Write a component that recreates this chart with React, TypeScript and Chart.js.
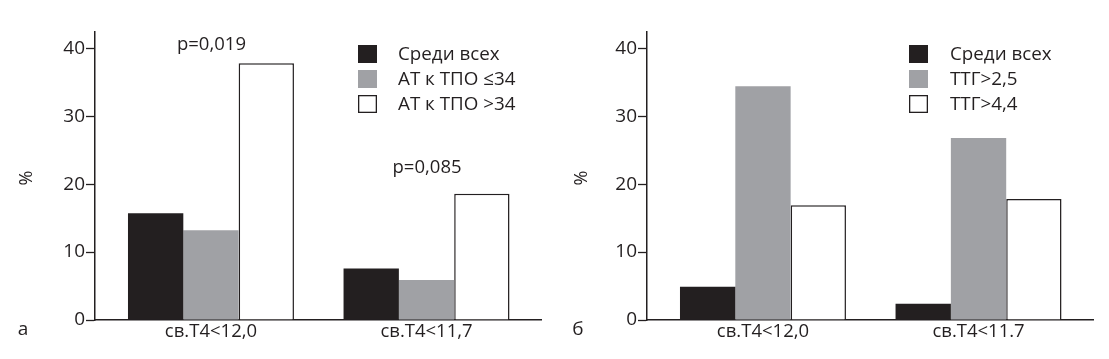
import React, { useEffect, useRef } from "react";
import { Chart, registerables } from "chart.js";

Chart.register(...registerables);

const leftCategories = ["св.Т4<12,0", "св.Т4<11,7"];
const rightCategories = ["св.Т4<12,0", "св.Т4<11.7"];
const leftLegend = ["Среди всех", "АТ к ТПО ≤34", "АТ к ТПО >34"];
const rightLegend = ["Среди всех", "ТТГ>2,5", "ТТГ>4,4"];
const leftAll = [15.7, 7.6];
const leftTpoLow = [13.2, 5.9];
const leftTpoHigh = [37.8, 18.6];
const rightAll = [4.9, 2.4];
const rightTtg25 = [34.4, 26.8];
const rightTtg44 = [16.9, 17.8];
const leftPValues = ["p=0,019", "p=0,085"];
const yTickValues = [0, 10, 20, 30, 40];

const INK = "#231f20";
const GRAY = "#a0a1a5";
const FONT = "'Open Sans', sans-serif";

type PanelProps = {
  categories: string[];
  legend: string[];
  series: number[][];
  pValues?: string[];
  pOffsets?: number[];
  panelLetter: string;
  yAxisWidth: number;
  rightPad: number;
  legendBoxX: number;
  legendTextX: number;
  width: number;
};

function Panel(props: PanelProps) {
  const ref = useRef<HTMLCanvasElement | null>(null);
  useEffect(() => {
    if (!ref.current) return;
    const colors = [INK, GRAY, "#ffffff"];
    const overlay = {
      id: "overlay",
      afterDraw(chart: any) {
        const ctx = chart.ctx;
        const xs = chart.scales.x;
        const ys = chart.scales.y;
        ctx.save();
        // legend
        const rows = [54, 79, 104];
        props.legend.forEach((t, i) => {
          ctx.fillStyle = colors[i];
          ctx.fillRect(props.legendBoxX, rows[i] - 9, 19, 18);
          if (i === 2) {
            ctx.strokeStyle = INK;
            ctx.lineWidth = 1.3;
            ctx.strokeRect(props.legendBoxX + 0.65, rows[i] - 8.35, 17.7, 16.7);
          }
          ctx.fillStyle = INK;
          ctx.font = `18.8px ${FONT}`;
          ctx.textAlign = "left";
          ctx.textBaseline = "middle";
          ctx.fillText(t, props.legendTextX, rows[i] + 1);
        });
        // p values
        if (props.pValues) {
          ctx.font = `18.5px ${FONT}`;
          ctx.textAlign = "center";
          ctx.textBaseline = "alphabetic";
          props.pValues.forEach((p, i) => {
            const maxV = Math.max(...props.series.map((s) => s[i]));
            const x = xs.getPixelForValue(i) + 0.5;
            const y = ys.getPixelForValue(maxV) - (props.pOffsets ? props.pOffsets[i] : 15);
            ctx.fillText(p, x, y);
          });
        }
        // % label
        ctx.font = `18px ${FONT}`;
        ctx.textAlign = "center";
        ctx.textBaseline = "middle";
        ctx.translate(27, 178);
        ctx.rotate(-Math.PI / 2);
        ctx.fillText("%", 0, 0);
        ctx.restore();
        ctx.save();
        ctx.fillStyle = INK;
        ctx.font = `19px ${FONT}`;
        ctx.textAlign = "center";
        ctx.textBaseline = "middle";
        ctx.fillText(props.panelLetter, 23, 330);
        ctx.restore();
      },
    };
    const chart = new Chart(ref.current, {
      type: "bar",
      data: {
        datasets: props.series.map((s, i) => ({
          label: props.legend[i],
          data: s.map((v, j) => ({ x: j, y: v })),
          backgroundColor: colors[i],
          borderColor: INK,
          borderWidth: i === 2 ? 1.5 : 0,
          borderSkipped: "bottom",
          categoryPercentage: 0.77,
          barPercentage: 1,
        })),
      },
      options: {
        responsive: false,
        animation: false,
        layout: { padding: { left: 0, right: props.rightPad, top: 32, bottom: 0 } },
        plugins: { legend: { display: false }, tooltip: { enabled: false } },
        scales: {
          x: {
            type: "linear",
            offset: false,
            min: -0.538,
            max: 1.531,
            grid: { display: false, drawTicks: false, offset: false },
            border: { color: INK, width: 1.5 },
            ticks: {
              color: INK,
              font: { family: FONT, size: 18.5 },
              padding: 1,
              autoSkip: false,
              maxRotation: 0,
              callback: (v: any) => props.categories[Number(v)] ?? "",
            },
            afterBuildTicks: (s: any) => {
              s.ticks = props.categories.map((_, i) => ({ value: i }));
            },
            afterFit: (s: any) => {
              s.height = 39;
            },
          },
          y: {
            min: 0,
            max: 42.4,
            grid: { drawOnChartArea: false, drawTicks: true, tickLength: 9, tickColor: INK, tickWidth: 1.3 },
            border: { color: INK, width: 1.5 },
            ticks: { color: INK, font: { family: FONT, size: 19 }, padding: 1, stepSize: 10 },
            afterBuildTicks: (s: any) => {
              s.ticks = yTickValues.map((v) => ({ value: v }));
            },
            afterFit: (s: any) => {
              s.width = props.yAxisWidth;
            },
          },
        },
      },
      plugins: [overlay],
    });
    return () => chart.destroy();
  }, []);
  return <canvas ref={ref} width={props.width} height={359} style={{ display: "block" }} />;
}

export default function App() {
  return (
    <div style={{ position: "absolute", left: 0, top: 0, width: 1109, height: 359, background: "#fff", display: "flex" }}>
      <Panel
        categories={leftCategories}
        legend={leftLegend}
        series={[leftAll, leftTpoLow, leftTpoHigh]}
        pValues={leftPValues}
        pOffsets={[13, 21]}
        panelLetter="а"
        yAxisWidth={95}
        rightPad={14}
        legendBoxX={358}
        legendTextX={398}
        width={555}
      />
      <Panel
        categories={rightCategories}
        legend={rightLegend}
        series={[rightAll, rightTtg25, rightTtg44]}
        panelLetter="б"
        yAxisWidth={92}
        rightPad={16}
        legendBoxX={354}
        legendTextX={395}
        width={554}
      />
    </div>
  );
}
